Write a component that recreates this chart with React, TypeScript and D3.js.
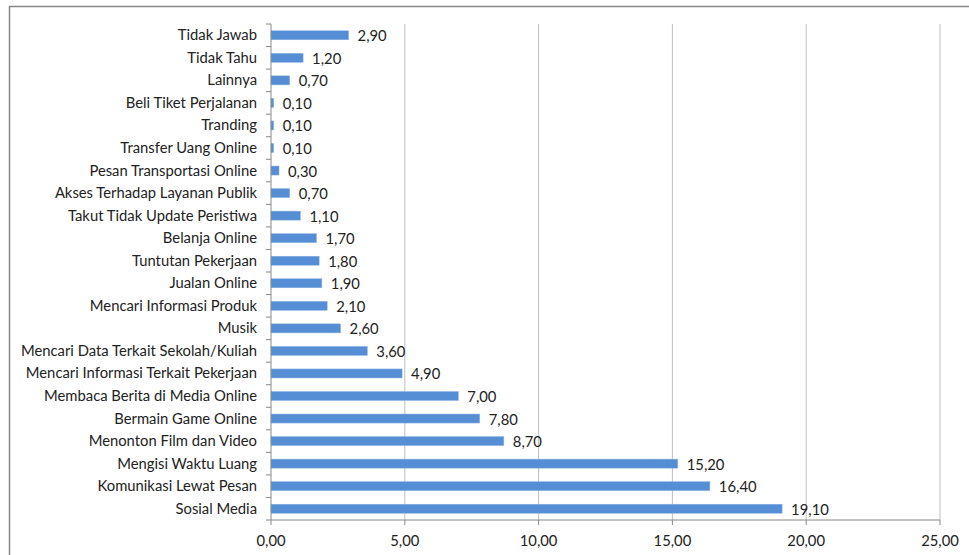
import React from "react";
import * as d3 from "d3";

const categories = [
  "Tidak Jawab",
  "Tidak Tahu",
  "Lainnya",
  "Beli Tiket Perjalanan",
  "Tranding",
  "Transfer Uang Online",
  "Pesan Transportasi Online",
  "Akses Terhadap Layanan Publik",
  "Takut Tidak Update Peristiwa",
  "Belanja Online",
  "Tuntutan Pekerjaan",
  "Jualan Online",
  "Mencari Informasi Produk",
  "Musik",
  "Mencari Data Terkait Sekolah/Kuliah",
  "Mencari Informasi Terkait Pekerjaan",
  "Membaca Berita di Media Online",
  "Bermain Game Online",
  "Menonton Film dan Video",
  "Mengisi Waktu Luang",
  "Komunikasi Lewat Pesan",
  "Sosial Media",
];
const values = [2.9, 1.2, 0.7, 0.1, 0.1, 0.1, 0.3, 0.7, 1.1, 1.7, 1.8, 1.9, 2.1, 2.6, 3.6, 4.9, 7.0, 7.8, 8.7, 15.2, 16.4, 19.1];
const xTicks = [0, 5, 10, 15, 20, 25];

const fmt = (v: number) => v.toFixed(2).replace(".", ",");

export default function App() {
  const W = 969, H = 555;
  const left = 271, right = 940, top = 24, bottom = 520;
  const x = d3.scaleLinear().domain([0, 25]).range([left, right]);
  const y = d3.scaleBand().domain(categories).range([top, bottom]).paddingInner(0.6).paddingOuter(0.3);
  const yb = d3.scaleBand().domain(categories).range([top, bottom]);
  const font = "Lato, sans-serif";
  const fs = 14.8;
  return (
    <svg width={W} height={H} style={{ position: "absolute", left: 0, top: 0, background: "#fff" }}>
      <rect x={9.5} y={6.5} width={W + 20} height={H + 20} fill="#fff" stroke="#888" strokeWidth={1.5} />
      {xTicks.slice(1).map((t) => (
        <line key={t} x1={x(t)} x2={x(t)} y1={top} y2={bottom} stroke="#BEBEBE" strokeWidth={1} />
      ))}
      {categories.map((c, i) => (
        <rect key={c} x={x(0)} y={y(c)!} width={x(values[i]) - x(0)} height={y.bandwidth()} fill="#558ED5" stroke="#8DB3E2" strokeWidth={0.5} />
      ))}
      <line x1={left} x2={left} y1={top} y2={bottom} stroke="#888" />
      {categories.map((c, i) => (
        <line key={"t" + c} x1={left - 5} x2={left} y1={yb(c)!} y2={yb(c)!} stroke="#888" />
      ))}
      <line x1={left - 5} x2={left} y1={bottom} y2={bottom} stroke="#888" />
      <line x1={left} x2={right} y1={bottom} y2={bottom} stroke="#888" />
      {xTicks.map((t) => (
        <g key={"x" + t}>
          <line x1={x(t)} x2={x(t)} y1={bottom} y2={bottom + 5} stroke="#888" />
          <text x={x(t)} y={546} textAnchor="middle" fontFamily={font} fontSize={fs} fill="#222">{fmt(t)}</text>
        </g>
      ))}
      {categories.map((c, i) => (
        <text key={"l" + c} x={257} y={yb(c)! + yb.bandwidth() / 2 + 5} textAnchor="end" fontFamily={font} fontSize={fs} fill="#222">{c}</text>
      ))}
      {categories.map((c, i) => (
        <text key={"v" + c} x={x(values[i]) + 9} y={yb(c)! + yb.bandwidth() / 2 + 6} fontFamily={font} fontSize={fs} fill="#222">{fmt(values[i])}</text>
      ))}
    </svg>
  );
}
